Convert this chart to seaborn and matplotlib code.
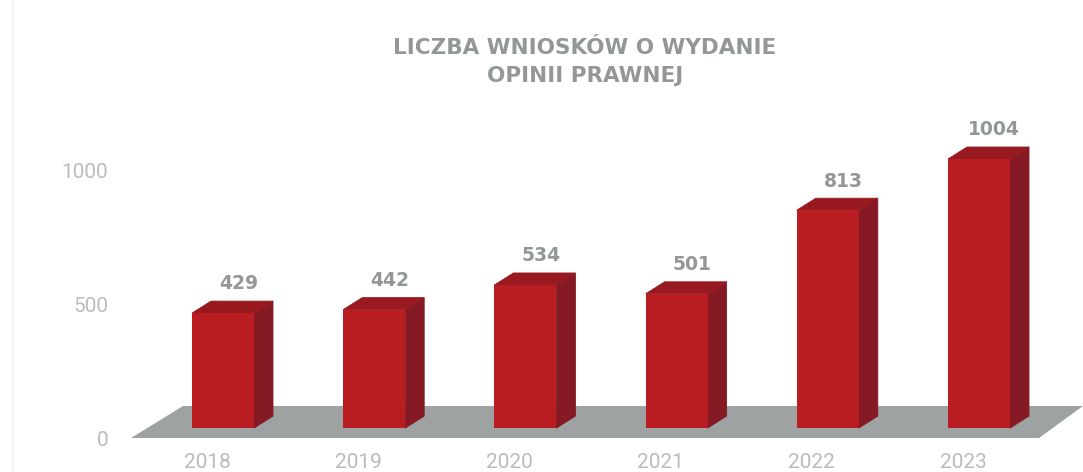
import matplotlib
matplotlib.use('Agg')
import matplotlib.pyplot as plt
import matplotlib.transforms as mtrans
from matplotlib.patches import Polygon
import seaborn as sns

years = ['2018', '2019', '2020', '2021', '2022', '2023']
wnioski = [429, 442, 534, 501, 813, 1004]
y_ticks = [0, 500, 1000]
title = 'LICZBA WNIOSKÓW O WYDANIE\nOPINII PRAWNEJ'

front_color = '#b91d21'
side_color = '#851a24'
top_color = '#981a20'
floor_color = '#9ea2a2'
label_color = '#939797'
tick_color = '#b9bcbc'

# px per unit, used to turn the pixel sizes of the fake 3d into data units
px_x = 151.2
px_y = 0.268
base = 37
depth_x = 19 / px_x
depth_y = 12 / px_y

sns.set_theme(style='white')
plt.rcParams['font.family'] = ['Roboto', 'DejaVu Sans']

fig = plt.figure(figsize=(10.83, 4.72), dpi=100)
ax = fig.add_axes([115 / 1083, 1 - 445 / 472, 968 / 1083, 345 / 472])

sns.barplot(x=years, y=wnioski, bottom=base, width=0.41, color=front_color,
            saturation=1, linewidth=0, ax=ax, zorder=3)

ax.set_xlim(-108 / px_x, (1083 - 223) / px_x)
ax.set_ylim(-7 / px_y, 338 / px_y)

# grey floor under the bars
n = len(years) - 1
floor = Polygon([(-92 / px_x, 0), (n + 60 / px_x, 0),
                 (n + 104 / px_x, 32 / px_y), (-40 / px_x, 32 / px_y)],
                closed=True, color=floor_color, lw=0, zorder=1, clip_on=False)
ax.add_patch(floor)

# side and top faces, taken from the bars seaborn drew
for bar, val in zip(ax.patches[:len(years)], wnioski):
    x0 = bar.get_x()
    x1 = x0 + bar.get_width()
    y0 = bar.get_y()
    y1 = y0 + bar.get_height()
    ax.add_patch(Polygon([(x1, y0), (x1 + depth_x, y0 + depth_y),
                          (x1 + depth_x, y1 + depth_y), (x1, y1)],
                         closed=True, color=side_color, lw=0.6, zorder=2))
    ax.add_patch(Polygon([(x0, y1), (x1, y1), (x1 + depth_x, y1 + depth_y),
                          (x0 + depth_x, y1 + depth_y)],
                         closed=True, color=top_color, lw=0.6, zorder=2))
    ax.annotate(str(val), (x0 + bar.get_width() / 2, y1), xytext=(11, 21),
                textcoords='offset points', ha='center', va='center',
                fontsize=13.5, fontweight='bold', color=label_color,
                family='DejaVu Sans', zorder=5)

sns.despine(ax=ax, left=True, bottom=True)
ax.set_yticks(y_ticks)
ax.tick_params(axis='both', length=0, labelsize=15, labelcolor=tick_color)
ax.tick_params(axis='y', pad=5)
ax.tick_params(axis='x', pad=6)
shift = mtrans.ScaledTranslation(-16 / 100, 0, fig.dpi_scale_trans)
for lab in ax.get_xticklabels():
    lab.set_transform(lab.get_transform() + shift)

fig.text(585 / 1083, 1 - 62 / 472, title, ha='center', va='center', fontsize=15.5,
         fontweight='bold', family='DejaVu Sans', color=label_color, linespacing=1.55)

# faint scan edge on the left
fig.add_artist(plt.Line2D([12 / 1083, 12 / 1083], [0, 1], color='#f3f3f3', lw=1))

fig.savefig('out.png', dpi=100)
